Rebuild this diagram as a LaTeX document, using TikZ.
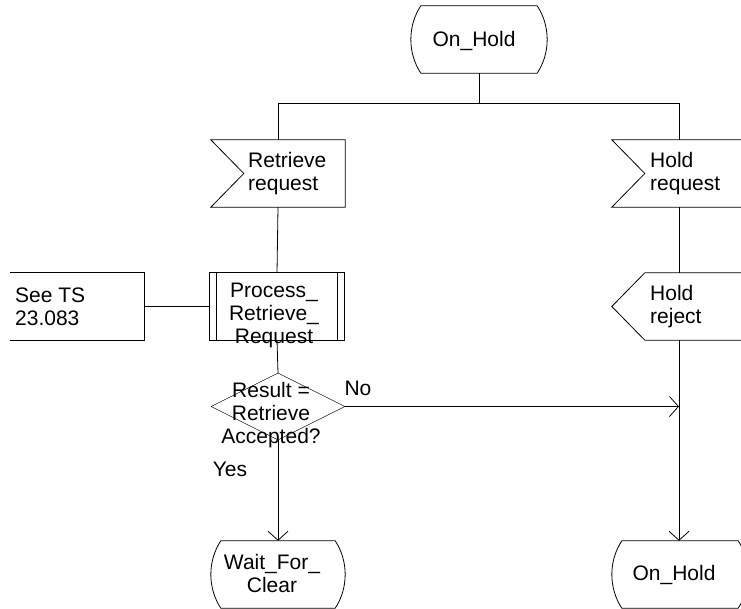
\documentclass[tikz,border=0pt]{standalone}
\usepackage{fontspec}
\setmainfont{Liberation Sans}
\usetikzlibrary{shapes.geometric,arrows.meta}
\tikzset{
  every node/.style={font=\fontsize{21}{23}\selectfont},
  shapebox/.style={minimum width=134pt, minimum height=67pt, inner sep=0pt},
  statebox/.style={minimum width=136pt, minimum height=67pt, inner sep=0pt},
  decbox/.style={diamond, draw, minimum width=134pt, minimum height=67pt, inner sep=0pt},
  txt/.style={inner sep=0pt, align=center},
  ltxt/.style={inner sep=0pt, align=left, anchor=west},
  line/.style={line width=0.8pt},
  arr/.style={line width=0.8pt, -{Straight Barb[length=9pt,width=20pt,line width=0.8pt]}}
}
\newcommand{\drawstate}[1]{%
  \draw[line] ([xshift=10pt]#1.north west) -- ([xshift=-10pt]#1.north east)
    .. controls ([xshift=3.3pt,yshift=-20.3pt]#1.north east) and ([xshift=3.3pt,yshift=20.3pt]#1.south east) .. ([xshift=-10pt]#1.south east)
    -- ([xshift=10pt]#1.south west)
    .. controls ([xshift=-3.3pt,yshift=20.3pt]#1.south west) and ([xshift=-3.3pt,yshift=-20.3pt]#1.north west) .. cycle;}
\newcommand{\drawinsig}[1]{%
  \draw[line] (#1.north west) -- (#1.north east) -- (#1.south east) -- (#1.south west)
    -- ([xshift=33pt]#1.west) -- cycle;}
\newcommand{\drawoutsig}[1]{%
  \draw[line] ([xshift=33pt]#1.north west) -- (#1.north east) -- (#1.south east)
    -- ([xshift=33pt]#1.south west) -- (#1.west) -- cycle;}
\begin{document}
\begin{tikzpicture}[x=1pt,y=-1pt]
\useasboundingbox (0,0) rectangle (741,609);
% shapes
\node[statebox] (s0) at (479,39.5) {};
\node[shapebox] (rr) at (278,173.5) {};
\node[shapebox] (hr) at (679,173.5) {};
\node[shapebox] (pr) at (277,306.5) {};
\node[shapebox] (see) at (77,306.5) {};
\node[shapebox] (hj) at (679,306.5) {};
\node[decbox] (dec) at (278,406.5) {};
\node[shapebox] (s1) at (278,574.5) {};
\node[statebox] (s2) at (680,574.5) {};
\drawstate{s0}
\drawinsig{rr}
\drawinsig{hr}
\drawoutsig{hj}
\draw[line] (pr.north west) rectangle (pr.south east);
\draw[line] ([xshift=6.7pt]pr.north west) -- ([xshift=6.7pt]pr.south west);
\draw[line] ([xshift=-6.7pt]pr.north east) -- ([xshift=-6.7pt]pr.south east);
\draw[line] (see.north west) -- (see.north east) -- (see.south east) -- (see.south west);
\drawstate{s1}
\drawstate{s2}
% texts
\node[txt] (t0) at (474,41) {On\_Hold};
\node[ltxt] (trr) at (248,174) {Retrieve\\request};
\node[ltxt] (thr) at (650,174) {Hold\\request};
\node[ltxt] (thj) at (650,307) {Hold\\reject};
\node[ltxt] (tsee) at (15,307) {See TS\\23.083};
\node[txt] (tpr) at (274,315) {Process\_\\Retrieve\_\\Request};
\node[txt] (tdec) at (271,415) {Result =\\Retrieve\\Accepted?};
\node[txt] (ts1) at (272,573) {Wait\_For\_\\Clear};
\node[txt] (ts2) at (674,575) {On\_Hold};
\node[txt] (no) at (358,388) {No};
\node[txt] (yes) at (230,469) {Yes};
% connectors
\coordinate (j) at (479,103);
\draw[line] (s0.south) -- (j);
\draw[line] (rr.north) -- (rr.north |- j) -- (hr.north |- j) -- (hr.north);
\draw[line] (rr.south) -- (pr.north);
\draw[line] (see.east) -- (pr.west);
\draw[line] (pr.south) -- (dec.north);
\draw[line] (hr.south) -- (hj.north);
\draw[arr] (dec.east) -- (dec.east -| hj.south);
\draw[arr] (hj.south) -- (hj.south |- s2.north);
\draw[arr] (dec.south) -- (s1.north);
\end{tikzpicture}
\end{document}
